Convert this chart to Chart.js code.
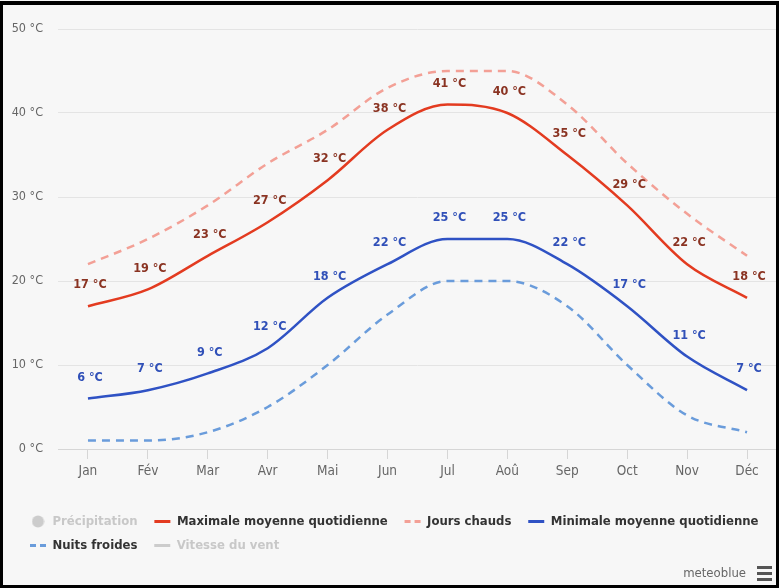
<!DOCTYPE html>
<html>
<head>
<meta charset="utf-8">
<script src="https://cdn.jsdelivr.net/npm/chart.js@4"></script>
<style>
  html, body { margin: 0; padding: 0; background: #ffffff; }
  #wrap { position: absolute; left: 0; top: 0; width: 779px; height: 588px; background: #f7f7f7; }
  #c { position: absolute; left: 0; top: 0; }
  #frame { position: absolute; left: 0; top: 1px; width: 779px; height: 587px; box-sizing: border-box;
           border: 3px solid #000; border-top-width: 4px; pointer-events: none; }
  #brand { position: absolute; right: 33px; top: 565px; font: 13px "DejaVu Sans Condensed", Roboto, sans-serif; color: #666; }
  #menu { position: absolute; left: 757px; top: 566px; width: 15px; }
  #menu div { height: 3px; background: #555; margin-bottom: 3px; }
</style>
</head>
<body>
<div id="wrap">
  <canvas id="c" width="779" height="588"></canvas>
  <div id="brand">meteoblue</div>
  <div id="menu"><div></div><div></div><div></div></div>
  <div id="frame"></div>
</div>
<script>
const months = ["Jan", "Fév", "Mar", "Avr", "Mai", "Jun", "Jul", "Aoû", "Sep", "Oct", "Nov", "Déc"];
const maxMean = [17, 19, 23, 27, 32, 38, 41, 40, 35, 29, 22, 18];
const hotDays = [22, 25, 29, 34, 38, 43, 45, 45, 41, 34, 28, 23];
const minMean = [6, 7, 9, 12, 18, 22, 25, 25, 22, 17, 11, 7];
const coldNights = [1, 1, 2, 5, 10, 16, 20, 20, 17, 10, 4, 2];
const yTicks = [0, 10, 20, 30, 40, 50];
const legendNames = ["Précipitation", "Maximale moyenne quotidienne", "Jours chauds", "Minimale moyenne quotidienne", "Nuits froides", "Vitesse du vent"];

const FONT = '"DejaVu Sans Condensed", Roboto, sans-serif';

// grey dot used as legend marker for the disabled precipitation series
const dot = document.createElement('canvas');
dot.width = 13; dot.height = 13;
(function () {
  const g = dot.getContext('2d');
  g.fillStyle = '#cccccc';
  g.beginPath(); g.arc(6.5, 6.5, 6, 0, Math.PI * 2); g.fill();
})();

const valueLabels = {
  id: 'valueLabels',
  afterDatasetsDraw(chart) {
    const ctx = chart.ctx;
    chart.data.datasets.forEach((ds, i) => {
      if (!ds.labelColor) return;
      const meta = chart.getDatasetMeta(i);
      ctx.save();
      ctx.font = 'bold 12.5px ' + FONT;
      ctx.fillStyle = ds.labelColor;
      ctx.textAlign = 'center';
      ctx.textBaseline = 'middle';
      meta.data.forEach((pt, j) => {
        ctx.fillText(ds.data[j] + ' °C', pt.x + 2, pt.y - 21);
      });
      ctx.restore();
    });
  }
};

const pad = '\u2002';
new Chart(document.getElementById('c'), {
  type: 'line',
  data: {
    labels: months,
    datasets: [
      { label: legendNames[0], data: [], disabledLegend: true, marker: dot, borderColor: '#cccccc' },
      { label: legendNames[1], data: maxMean, borderColor: '#e33b20', borderWidth: 2.5, labelColor: '#8a3322' },
      { label: legendNames[2], data: hotDays, borderColor: '#f3a096', borderWidth: 2.5, borderDash: [8, 6] },
      { label: legendNames[3], data: minMean, borderColor: '#2f52c4', borderWidth: 2.5, labelColor: '#3050b8', noPad: true },
      { label: legendNames[4], data: coldNights, borderColor: '#6a9cdb', borderWidth: 2.5, borderDash: [8, 6] },
      { label: legendNames[5], data: [], disabledLegend: true, borderColor: '#cccccc' }
    ]
  },
  options: {
    responsive: false,
    animation: false,
    devicePixelRatio: 1,
    layout: { padding: { left: 19, right: 2, top: 29, bottom: 26 } },
    elements: {
      point: { radius: 0, hoverRadius: 0 },
      line: { cubicInterpolationMode: 'monotone', fill: false, borderCapStyle: 'butt' }
    },
    scales: {
      x: {
        offset: true,
        afterFit(s) { s.height = 55; },
        grid: { offset: false, drawOnChartArea: false, drawTicks: true, tickLength: 10, color: '#d6d6d6' },
        border: { display: true, color: '#d6d6d6' },
        ticks: { padding: 4, color: '#666666', font: { family: FONT, size: 13.5 } }
      },
      y: {
        min: 0, max: 50,
        afterFit(s) { s.width = 39; },
        afterUpdate(s) { s._computeLabelArea = () => undefined; },
        afterBuildTicks(s) { s.ticks = yTicks.map(v => ({ value: v })); },
        grid: { color: '#e4e4e4', drawTicks: false },
        border: { display: false },
        ticks: { padding: 15, color: '#666666', font: { family: FONT, size: 12.5 }, callback: v => v + ' °C' }
      }
    },
    plugins: {
      tooltip: { enabled: false },
      legend: {
        position: 'bottom',
        align: 'start',
        labels: {
          usePointStyle: true,
          pointStyleWidth: 16,
          boxHeight: 8,
          padding: 11,
          font: { family: FONT, size: 13, weight: 'bold' },
          generateLabels(chart) {
            return chart.data.datasets.map((ds, i) => ({
              text: ds.label + (ds.noPad ? '' : pad),
              fillStyle: ds.borderColor,
              strokeStyle: ds.borderColor,
              fontColor: ds.disabledLegend ? '#c8c8c8' : '#333333',
              lineWidth: 3,
              lineDash: ds.borderDash ? [6, 4] : [],
              lineCap: 'butt',
              pointStyle: ds.marker || 'line',
              hidden: false,
              datasetIndex: i
            }));
          }
        }
      }
    }
  },
  plugins: [valueLabels]
});
</script>
</body>
</html>
